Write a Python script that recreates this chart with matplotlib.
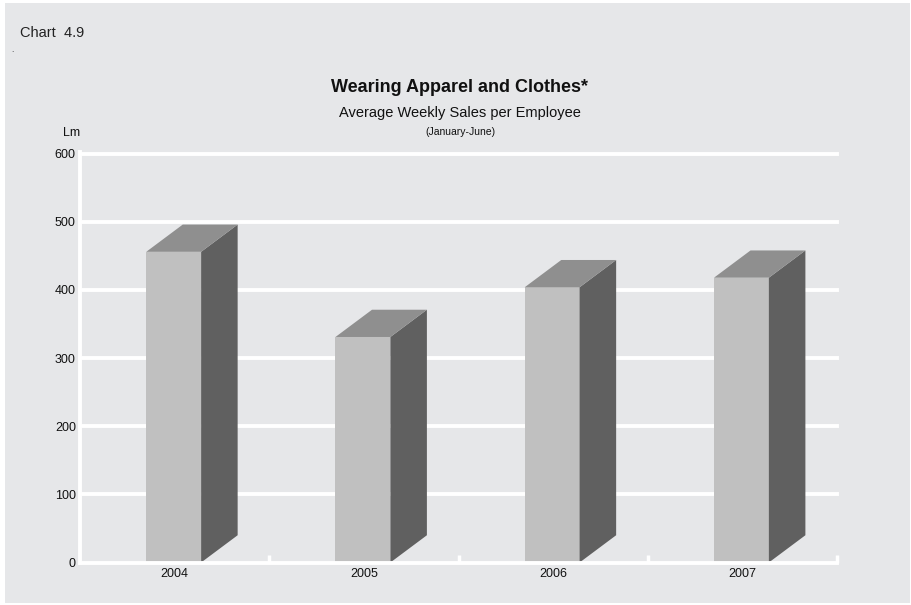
import numpy as np
import matplotlib.pyplot as plt
from matplotlib.patches import Polygon, Rectangle

plt.rcParams['font.family'] = ['Liberation Sans', 'DejaVu Sans']

years = ['2004', '2005', '2006', '2007']
sales = [456, 331, 404, 418]
yticks = [0, 100, 200, 300, 400, 500, 600]

W, H = 912, 605
bg = '#e6e7e9'
front_col = '#c0c0c0'
side_col = '#606060'
top_col = '#8f8f8f'

fig = plt.figure(figsize=(W / 100, H / 100), dpi=100, facecolor='white')

# grey panel with a thin white margin
fig.patches.append(Rectangle((5 / W, 2 / H), 905 / W, 600 / H,
                             transform=fig.transFigure, facecolor=bg,
                             edgecolor='none', zorder=-10))

ax = fig.add_axes([80 / W, 42.5 / H, 757 / W, 408.8 / H])
ax.set_zorder(1)
ax.patch.set_alpha(0)

ax.set_xlim(0, len(years))
ax.set_ylim(0, 600)

# 3-D style bars: front face, side face and top
bw = 0.29       # front face width (category units)
dx = 0.193      # depth offset in x
dy = 40         # depth offset in y (data units)
for i, v in enumerate(sales):
    x0 = i + 0.5 - bw / 2 - 0.005
    x1 = x0 + bw
    ax.add_patch(Polygon([(x0, 0), (x1, 0), (x1, v), (x0, v)],
                         closed=True, facecolor=front_col, edgecolor='none', zorder=3))
    ax.add_patch(Polygon([(x1, 0), (x1 + dx, dy), (x1 + dx, v + dy), (x1, v)],
                         closed=True, facecolor=side_col, edgecolor='none', zorder=3))
    ax.add_patch(Polygon([(x0, v), (x1, v), (x1 + dx, v + dy), (x0 + dx, v + dy)],
                         closed=True, facecolor=top_col, edgecolor='none', zorder=3))

# white gridlines behind the bars
for t in yticks[1:]:
    ax.axhline(t, color='white', lw=2.8, zorder=1, clip_on=False)

for s in ['top', 'right']:
    ax.spines[s].set_visible(False)
for s in ['left', 'bottom']:
    ax.spines[s].set_color('white')
    ax.spines[s].set_linewidth(2.8)
    ax.spines[s].set_zorder(4)
ax.spines['left'].set_bounds(0, 602)

ax.set_yticks(yticks)
ax.set_yticklabels([str(t) for t in yticks])
ax.tick_params(axis='y', length=0, pad=3, labelsize=9, labelcolor='#111111')

ax.set_xticks(np.arange(len(years)) + 0.5)
ax.set_xticklabels(years)
ax.set_xticks(np.arange(1, len(years) + 1), minor=True)
ax.tick_params(axis='x', which='major', length=0, pad=4, labelsize=9, labelcolor='#111111')
ax.tick_params(axis='x', which='minor', direction='in', length=6, width=2.5, color='white')

fig.text(20 / W, 1 - 33 / H, 'Chart  4.9', fontsize=10.5, color='#222222', ha='left', va='center')
fig.text(11 / W, 1 - 51 / H, '.', fontsize=6, color='#222222', ha='left', va='center')
fig.text(460 / W, 1 - 88 / H, 'Wearing Apparel and Clothes*', fontsize=13,
         fontweight='bold', color='#111111', ha='center', va='center')
fig.text(460 / W, 1 - 113 / H, 'Average Weekly Sales per Employee', fontsize=10.5,
         color='#111111', ha='center', va='center')
fig.text(460 / W, 1 - 132 / H, '(January-June)', fontsize=7.5,
         color='#111111', ha='center', va='center')
fig.text(72 / W, 1 - 133 / H, 'Lm', fontsize=9, color='#111111', ha='center', va='center')

fig.savefig('out.png', dpi=100, facecolor='white')
